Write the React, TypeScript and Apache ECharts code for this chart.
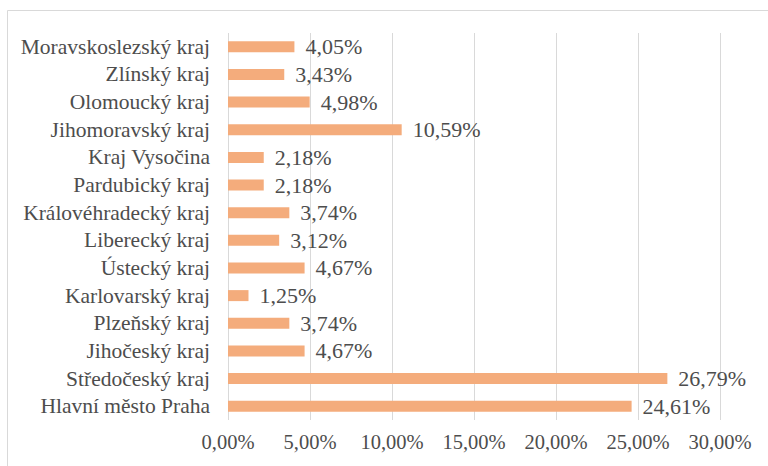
import React, { useEffect, useRef } from "react";
import * as echarts from "echarts";

// Regions listed bottom-to-top as the category axis draws them
const regions = [
  "Hlavní město Praha",
  "Středočeský kraj",
  "Jihočeský kraj",
  "Plzeňský kraj",
  "Karlovarský kraj",
  "Ústecký kraj",
  "Liberecký kraj",
  "Královéhradecký kraj",
  "Pardubický kraj",
  "Kraj Vysočina",
  "Jihomoravský kraj",
  "Olomoucký kraj",
  "Zlínský kraj",
  "Moravskoslezský kraj",
];

const shares = [24.61, 26.79, 4.67, 3.74, 1.25, 4.67, 3.12, 3.74, 2.18, 2.18, 10.59, 4.98, 3.43, 4.05];

const fmtPct = (v: number) => v.toFixed(2).replace(".", ",") + "%";

const FONT = "Liberation Serif";
const TEXT = "#4d4d4d";

export default function App() {
  const ref = useRef<HTMLDivElement>(null);

  useEffect(() => {
    if (!ref.current) return;
    const chart = echarts.init(ref.current, undefined, { renderer: "svg" });
    chart.setOption({
      animation: false,
      backgroundColor: "#ffffff",
      textStyle: { fontFamily: FONT },
      graphic: [
        {
          type: "rect",
          shape: { x: 7.5, y: 10.5, width: 800, height: 500 },
          style: { fill: "none", stroke: "#d9d9d9", lineWidth: 1 },
          silent: true,
        },
      ],
      grid: { left: 228, right: 48, top: 33, bottom: 46, containLabel: false },
      xAxis: {
        type: "value",
        min: 0,
        max: 30,
        interval: 5,
        axisLine: { show: false },
        axisTick: { show: false },
        splitLine: { show: true, lineStyle: { color: "#d9d9d9", width: 1 } },
        axisLabel: {
          formatter: (v: number) => fmtPct(v),
          fontFamily: FONT,
          fontSize: 20.5,
          color: TEXT,
          margin: 11,
        },
      },
      yAxis: {
        type: "category",
        data: regions,
        axisLine: { show: false },
        axisTick: { show: false },
        splitLine: { show: false },
        axisLabel: {
          interval: 0,
          fontFamily: FONT,
          fontSize: 21.5,
          color: TEXT,
          margin: 18,
        },
      },
      series: [
        {
          type: "bar",
          data: shares,
          barWidth: 11,
          itemStyle: { color: "#F4AC7C" },
          label: {
            show: true,
            position: "right",
            distance: 11,
            formatter: (p: any) => fmtPct(p.value),
            fontFamily: FONT,
            fontSize: 22,
            color: TEXT,
          },
        },
      ],
    });
    return () => chart.dispose();
  }, []);

  return (
    <div
      ref={ref}
      style={{ position: "fixed", left: 0, top: 0, width: 768, height: 466 }}
    />
  );
}
